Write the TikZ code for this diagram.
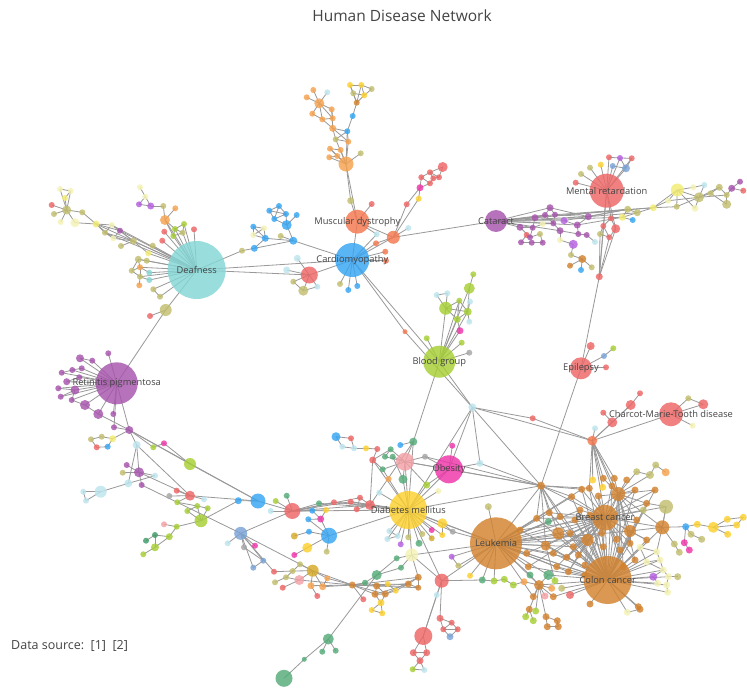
\documentclass[tikz,border=0pt]{standalone}
\usepackage{fontspec}
\setmainfont{Open Sans}
\pgfdeclarelayer{back}
\pgfdeclarelayer{edges}
\pgfdeclarelayer{labels}
\pgfsetlayers{back,edges,main,labels}
\definecolor{teal}{HTML}{84D6D6}
\definecolor{cblue}{HTML}{36A5F4}
\definecolor{morange}{HTML}{F5774F}
\definecolor{purp}{HTML}{A653AC}
\definecolor{mred}{HTML}{EE6666}
\definecolor{ygreen}{HTML}{A6CF34}
\definecolor{magenta}{HTML}{EE34A8}
\definecolor{yellow}{HTML}{FDD02E}
\definecolor{brown}{HTML}{D2822E}
\definecolor{olive}{HTML}{C2BE6E}
\definecolor{pale}{HTML}{F5F3B5}
\definecolor{lblue}{HTML}{BEE5EF}
\definecolor{green}{HTML}{55AB78}
\definecolor{dgreen}{HTML}{3E9A68}
\definecolor{orange}{HTML}{F6A24E}
\definecolor{sblue}{HTML}{79A3D6}
\definecolor{pink}{HTML}{F3A0A5}
\definecolor{gold}{HTML}{D6A928}
\definecolor{violet}{HTML}{B55DE0}
\definecolor{yellowb}{HTML}{F3EC72}
\definecolor{gray}{HTML}{A5A5A5}
\definecolor{txt}{HTML}{444444}
\definecolor{edgec}{HTML}{999999}
\tikzset{
  v/.style={circle, inner sep=0pt, draw=none, fill opacity=0.82},
  link/.style={draw=edgec, line width=0.8pt},
  lab/.style={text=txt, font=\fontsize{9.3}{11}\selectfont, inner sep=0pt}
}
\newcommand\vtxlist[1]{%
  \foreach \nm/\px/\py/\col/\sz in {#1}{\node[v, fill=\col, minimum size=\sz pt] (\nm) at (\px,\py) {};}}
\newcommand\edgelist[1]{%
  \foreach \ea/\eb in {#1}{\draw[link] (\ea.center) -- (\eb.center);}}
\begin{document}
\begin{tikzpicture}[x=1pt,y=-1pt]
\useasboundingbox (0,0) rectangle (747,688);
\begin{pgfonlayer}{back}
\fill[white] (0,0) rectangle (747,688);
\end{pgfonlayer}

% ---------- hubs ----------
\vtxlist{deaf/196.7/270/teal/58, card/352.3/260/cblue/34, musc/357.3/221.7/morange/24,
 cat/496/221/purp/22, mr/606.7/190.7/mred/34, rp/116.7/383.3/purp/42, bg/439.3/361.7/ygreen/32,
 epi/581/368.3/mred/22, char/671/414.3/mred/24, obes/449/469.3/magenta/28, diab/408.3/510/yellow/38,
 leuk/496/543.3/brown/52, breast/605/517.7/brown/26, colon/607.7/580/brown/48}

% ---------- around Deafness ----------
\vtxlist{a1/66.7/210/olive/9, a2/60/189/pale/6, a3/70.7/191/pale/6, a4/65/198/yellowb/6, a5/51.7/205/mred/6,
 a6/54/214/olive/6, a7/60.7/222/pale/6, a8/75/222.7/pale/9, a9/82.3/212.3/olive/6, a10/96/224/yellowb/7,
 a11/111.7/225/pale/6, a12/120/230.7/purp/6, a13/113.3/238.3/pale/6, a14/105/232.7/olive/6,
 a15/133.3/241/olive/7, a16/121/246/olive/6, a17/148.3/253.3/yellowb/6, a18/152.7/245.7/olive/6}
\vtxlist{b1/165/220/orange/10, b2/140/187.3/pale/6, b3/145.3/196.7/pale/6, b4/139/204.3/violet/6,
 b5/150.7/206/violet/7, b6/163.3/206/olive/6, b7/175.3/208.3/orange/6, b8/175/229/ygreen/6,
 b9/184/224/ygreen/6, b10/173.3/236/ygreen/6, b11/182.7/232.7/olive/6, b12/164.3/231.7/mred/6,
 b13/194/229.3/mred/6, b14/162.3/240.7/mred/6}
\vtxlist{c1/138.3/259.3/olive/7, c2/146.7/260.7/olive/6, c3/131.7/270.7/olive/6, c4/140/267.3/orange/6,
 c5/140/276.7/olive/6, c6/149.3/272.7/teal/6, c7/149.3/280/teal/6, c8/139.3/285.3/orange/6,
 c9/153.3/289.3/olive/6, c10/160/296.7/olive/6, c11/165.7/310/olive/12, c12/150/316/mred/6}
\vtxlist{d1/242/250.7/olive/6, d2/254.3/248.3/cblue/7, d3/253.3/226.7/cblue/6, d4/264/228.3/pale/6,
 d5/253.3/235/pale/6, d6/265.3/238.3/cblue/7, d7/269.3/210.7/cblue/6, d8/279/206/cblue/6,
 d9/274.3/219/cblue/6, d10/286/214/cblue/6, d11/286.7/225/cblue/10, d12/296.7/215/cblue/6,
 d13/293.3/240.7/cblue/8, d14/280.7/236/olive/6}

% ---------- Cardiomyopathy / Muscular dystrophy ----------
\vtxlist{e1/309.3/275/mred/17, e2/297.3/258.3/lblue/7, e3/286.7/270/lblue/7, e4/317.3/286.7/lblue/6,
 e5/293.3/281.7/olive/6, e6/303.3/290.7/olive/10, e7/340/284/olive/6, e8/348.3/290/cblue/6, e9/357.3/286/cblue/6}
\vtxlist{f1/350.7/200.7/olive/7, f2/371.7/204/mred/6, f3/393.3/237.3/morange/13, f4/408.3/228/lblue/6,
 f5/376.7/234.3/lblue/6, f6/376/243.3/morange/6, f7/385.3/251.7/morange/6, f8/386/260.7/morange/6,
 f9/406.7/204.3/mred/6, f10/418.7/198.7/yellow/6, f11/420/187.7/magenta/7, f12/421.3/177.3/mred/6,
 f13/430/172.3/mred/6, f14/433.3/178.3/mred/6, f15/439/177.3/mred/6, f16/430/183.3/mred/6, f17/442.7/167/mred/10}
\vtxlist{g1/346/164/orange/15, g2/319.3/103.3/orange/10, g3/313.3/90/orange/6, g4/327.3/92.3/lblue/6,
 g5/306.7/97.3/orange/6, g6/312.3/113.7/orange/6, g7/322.3/119.3/orange/6, g8/331.7/109.3/orange/6,
 g9/332.7/118.3/orange/6, g10/332.7/128.3/orange/7, g11/347.3/131.3/cblue/6, g12/335.7/139.3/olive/6,
 g13/348.3/141.7/orange/6, g14/330/148.7/orange/6, g15/340.7/150/orange/6, g16/329.3/157.3/orange/6,
 g17/337.3/156/orange/6, g18/360.7/153.3/olive/6, g19/352.7/116/cblue/6, g20/356.7/102.7/brown/6,
 g21/350/85/yellow/6, g22/361.3/85/yellow/6, g23/364.3/95.3/yellow/6, g24/371.7/89/olive/6, g25/353.3/93.3/olive/6}

% ---------- Cataract / Mental retardation ----------
\vtxlist{h1/550/207.7/purp/7, h2/535/217.7/purp/7, h3/545/215/purp/6, h4/555/214.7/purp/6,
 h5/564/220.7/violet/7, h6/553.3/223.3/purp/6, h7/542.7/224/pale/6, h8/520/227.3/purp/7,
 h9/532.7/227.7/purp/6, h10/560/230.7/purp/7, h11/577.3/225/purp/7, h12/588.3/216.7/purp/7,
 h13/578.3/234/purp/6, h14/586.7/235/purp/6, h15/595/242/lblue/6, h16/560/240/pale/6,
 h17/573.3/244.3/violet/9, h18/571/255/olive/6, h19/582.3/259/brown/8, h20/570/265.7/brown/6,
 h21/581/270/cblue/6, h22/591.7/267.3/olive/6, h23/526.7/235/mred/6, h24/540/234/olive/6,
 h25/521/242.3/purp/6, h26/531.7/242.7/purp/6, h27/542.7/242.7/purp/6, h28/530/237.3/purp/6}
\vtxlist{m1/575.7/182.7/mred/6, m2/581/174/olive/6, m3/590/167.7/olive/6, m4/600.7/164.7/yellow/6,
 m5/609/157.3/mred/6, m6/620/158/violet/6, m7/631.7/158.3/mred/6, m8/612.7/166/sblue/6,
 m9/626/168.3/sblue/8, m10/611/218.3/mred/6, m11/603.3/226/mred/6, m12/615.7/228.7/mred/9,
 m13/609.3/237.3/mred/6, m14/600/234/olive/6, m15/599.3/276.7/mred/7}
\vtxlist{i1/622.3/217.3/yellowb/7, i2/632.7/220/cblue/6, i3/627.7/209.3/olive/7, i4/637.3/212.7/olive/7,
 i5/653.3/207.7/yellowb/7, i6/668.3/200.7/pale/6, i7/676.7/206.7/olive/6, i8/677.3/190/yellowb/13,
 i9/693.3/187.3/pale/6, i10/704.3/185/lblue/6, i11/699/197.3/olive/10, i12/695/208.3/pale/7,
 i13/710.7/193.3/olive/6, i14/719.3/187.3/olive/7, i15/726.7/195/olive/6, i16/726.7/204.3/olive/9,
 i17/731.7/188.3/purp/7, i18/740/181.7/purp/6, i19/743.3/190.7/mred/6}

% ---------- Blood group, centre ----------
\vtxlist{j1/469.3/288.3/ygreen/11, j2/473.3/274.3/ygreen/6, j3/445.7/308.3/ygreen/13, j4/436.7/295/lblue/6,
 j5/447.3/293.3/lblue/6, j6/459.3/300.7/ygreen/6, j7/470/301.7/lblue/6, j8/467.7/311.7/ygreen/8,
 j9/457.3/319.3/ygreen/7, j10/469.3/321.7/lblue/6, j11/460/330.7/magenta/7, j12/426.7/338.3/ygreen/6,
 j13/461.7/342.7/ygreen/6, j14/469.3/352.7/gray/6, j15/405/331.7/morange/5}
\vtxlist{k1/472.3/407.3/lblue/8, k2/532.7/418.3/mred/6, k3/592.3/440.7/morange/10, k4/541/485.7/brown/8,
 k5/480/463.3/lblue/7, k6/413.3/441.7/green/8, k7/595/428.3/lblue/6}
\vtxlist{ep1/590.7/346/mred/8, ep2/604/356/sblue/6, ep3/613.3/348.3/ygreen/6, ep4/606/367.3/mred/6}
\vtxlist{ch1/703.3/404.3/mred/10, ch2/688.3/398.3/olive/6, ch3/692.7/425.7/pale/6, ch4/630.7/405/mred/10,
 ch5/612.3/422.3/mred/10, ch6/640/393.3/mred/6, ch7/603.3/412.7/mred/6}

% ---------- Obesity / Diabetes ----------
\vtxlist{pk/405/461.7/pink/18, n1/336/436.7/cblue/9, n2/351/438.3/mred/6, n3/342.3/446.7/lblue/6,
 n4/354/448.3/lblue/6, n5/366/448.3/yellow/6, n6/377.3/449/mred/6, n7/400.3/445/cblue/6,
 n9/452.3/445.7/magenta/6, n10/390.7/449.3/green/6, n11/372.7/460/mred/7, n12/385/456.7/green/6,
 n13/392.7/456.7/green/6, n14/425/456.7/gray/6, n15/382.7/469.3/green/6, n16/388.7/479/orange/6,
 n17/403/479.3/green/9, n18/426.7/485/ygreen/7, n19/438.3/491/pale/6, n20/379.3/492.7/lblue/6, n21/370/505/mred/10}
\vtxlist{q1/389.3/531/lblue/6, q2/397.7/536/lblue/6, q3/387.3/539/lblue/6, q4/408.3/537.3/olive/6,
 q5/419/543.3/green/7, q6/400.7/544.3/violet/6, q7/422.3/534/olive/6, q8/431.7/530/magenta/6,
 q9/431.7/538.3/gold/6, q10/442.3/523.3/yellow/10, q11/442.3/535/yellow/6, q12/452.7/531.7/gray/6}
\vtxlist{p1/411.7/555/pale/13, p2/451.7/556.7/violet/6, p3/458.3/565.7/olive/6, p4/470/575.7/yellow/6,
 p5/441.7/580.7/mred/14, p6/436.7/595/lblue/6, p7/482.3/580/green/7}

% ---------- Retinitis pigmentosa and the lower left ----------
\vtxlist{r1/80/358.3/purp/8, r2/92.3/360.7/purp/6, r3/108.3/353.3/purp/6, r4/72.3/370/purp/6,
 r5/61.7/372.7/purp/6, r6/81.7/368.3/purp/6, r7/66.7/381.7/purp/7, r8/79.3/377.3/purp/6,
 r9/75/390/purp/9, r10/58.3/388.3/purp/6, r11/60.7/396.7/purp/6, r12/71.7/400/purp/6,
 r13/85/405/purp/10, r14/98.3/414/purp/10, r15/113.3/414/purp/6, r16/114/427.3/purp/6, r17/129.3/430/purp/8}
\vtxlist{s1/91/439.3/olive/6, s2/101.7/436.7/olive/6, s3/112.7/438.7/yellowb/7, s4/96.7/447.3/mred/6,
 s5/107.7/446.7/cblue/6, s6/136.7/445/lblue/8, s7/153.3/447.3/ygreen/6, s8/164/443.3/magenta/6,
 s9/190/464/ygreen/12, s10/139/472.3/purp/10, s11/126.7/465/purp/6, s12/122.7/472.7/olive/6,
 s13/141.7/485/purp/6, s14/155/475.7/lblue/6, s15/128.3/483.3/lblue/8, s16/100.7/491.7/lblue/12,
 s17/83.3/491.7/lblue/6, s18/86/500.7/lblue/6, s19/176.7/490.7/mred/6, s20/190/495.7/mred/10,
 s21/169.3/496/gray/6, s22/177.3/502.3/ygreen/6, s23/204/499.3/lblue/6, s24/197.3/506/ygreen/6,
 s25/187.3/511/ygreen/6, s26/207.7/508.3/ygreen/6, s27/201/520.7/ygreen/13, s28/164/524.3/pink/6,
 s29/176.7/526.7/ygreen/6, s30/169.3/536.7/ygreen/7, s31/155/535/dgreen/6, s32/146/540.7/dgreen/6,
 s33/155/547.3/ygreen/8, s34/143.3/554.3/ygreen/6}
\vtxlist{t1/238.3/500.7/cblue/7, t2/258/501/cblue/15, t3/240.7/533.3/sblue/13, t4/227.7/543.3/lblue/6,
 t5/255/545.7/magenta/6, t6/244/547.3/gray/6, t7/263.3/560.7/sblue/6, t8/253.3/567.7/sblue/6}
\vtxlist{u1/292.3/511/mred/16, u2/275.7/501/ygreen/6, u3/270.7/511/lblue/6, u4/286.7/495.7/green/6,
 u5/319/503.3/green/6, u6/334/502.3/mred/6, u7/350.7/501.7/mred/6, u8/360/497.7/mred/6,
 u9/356.7/509.3/mred/6, u10/312.3/510.7/cblue/6, u11/326/510/yellow/6, u12/320.7/519/magenta/7,
 u13/308.3/519.3/cblue/6, u14/329/535.7/cblue/16, u15/309/531.7/cblue/6, u16/294.3/536/gold/7,
 u17/307.3/547.7/yellow/10, u18/294.3/555/magenta/6, u19/326.7/551.7/olive/6}
\vtxlist{v1/312.7/570.7/gold/12, v2/300/564.3/olive/6, v3/292.7/571/olive/6, v4/299.3/580/pink/10,
 v5/286/577.3/olive/6, v6/275/582.3/olive/6, v7/274/571.7/mred/6, v8/282.7/587.7/mred/6,
 v9/311/585.7/orange/7, v10/322.7/586.7/orange/7, v11/327.3/578.3/orange/6, v12/317.3/596/mred/6}
\vtxlist{w1/352.3/585/brown/7, w2/365/582.7/green/6, w3/376.7/586/brown/7, w4/387.7/584/yellow/6,
 w5/375/594.3/brown/7, w6/385.3/594/brown/7, w7/395.7/590.7/yellow/6, w8/408.3/584/brown/7,
 w9/418.3/577.3/brown/7, w10/418.3/587.7/brown/6, w11/381/602.7/yellow/7, w12/371.7/610/yellow/6,
 w13/382.3/613.3/yellow/6, w14/363.3/599.3/mred/6, w15/376.7/575/green/10, w16/396.7/558.3/green/6,
 w17/401/567.7/green/6}
\vtxlist{z1/423.3/636/mred/18, z2/413.3/652.7/mred/7, z3/426.7/652.7/mred/7, z4/420/660.7/mred/7,
 z5/412.7/669.3/ygreen/6, z6/424.3/670/lblue/6, z7/440/618.3/mred/7, z8/451.7/622.7/mred/6,
 z9/443.3/629.3/mred/6, z10/457.7/629.3/mred/6, z11/450/636.7/sblue/7}
\vtxlist{x1/328.3/639/green/11, x2/322.3/651.7/green/6, x3/335.7/650.7/green/6, x4/304.3/659.3/green/5, x5/284/678.3/green/17}

% ---------- cancer cluster ----------
\vtxlist{cb1/618.3/494/brown/14, cb2/558.3/533.3/brown/12, cb3/587.7/540/brown/12, cb4/630/531/brown/12,
 cb5/662.3/527.3/brown/14, co1/666/506.7/olive/14, cb6/545.7/545.7/brown/10, cb7/539/585/brown/10}
\vtxlist{cs1/571.7/496.7/brown/7, cs2/581.7/489.3/brown/7, cs3/598.3/496/brown/7, cs4/612/486/brown/7,
 cs5/635/490/brown/7, cs6/646.7/503.3/brown/7, cs7/636.7/520/brown/7, cs8/646.7/540/brown/7,
 cs9/549.3/512.7/brown/7, cs10/560/516.7/brown/7, cs11/536.7/518.3/brown/7, cs12/570/533.3/brown/7,
 cs13/573.3/546.7/brown/7, cs14/601.7/533.3/brown/7, cs15/616.7/539.3/brown/7, cs16/603.3/546.7/brown/7,
 cs17/620/550/brown/7, cs18/630/543.3/brown/7, cs19/553.3/553.3/brown/7, cs20/566.7/557.3/brown/7,
 cs21/578.3/555/brown/7, cs22/556.7/566.7/brown/7, cs23/568.3/571.7/brown/7, cs24/526.7/553.3/brown/7,
 cs25/528.3/566.7/brown/7, cs26/585/565/brown/7, cs27/533.3/596.7/brown/7, cs28/553.3/596.7/brown/7,
 cs29/623.3/566.7/brown/7, cs30/635/560/brown/7, cs31/590/604/brown/7, cs32/638.3/606.7/brown/7,
 cs33/626.7/480/brown/7, cs34/614.3/478.3/brown/7, cs35/603.3/478.3/brown/7, cs36/589.3/488.3/brown/7,
 cs37/580/510/brown/7, cs38/640/609.3/brown/7, cs39/529.3/609.3/brown/7, cs40/546/616.7/brown/7,
 cs41/557.3/620.7/brown/7, cs42/547.3/626.7/brown/7, cs43/558.3/626.7/brown/7, cs44/590/515/brown/7,
 cs45/575/520/brown/7, cs46/655/490/brown/7, cs47/520/530/brown/7, cs48/585/575/brown/7}
\vtxlist{cy1/592.7/480/yellow/7, cy2/602.7/487.3/yellow/7, co2/636.7/471.7/olive/7, co3/650/475/olive/8,
 co4/655.7/465/olive/7, cor1/665.7/472.3/orange/8, cg1/548.3/575/green/10, cg2/530/575/green/7,
 cyg1/494/581/ygreen/7, cyg2/504.3/579.3/ygreen/7, cyg3/513.3/585/ygreen/7, cor2/524/581.7/orange/7,
 co5/488.3/506.7/olive/7, cyg4/535.7/611/ygreen/7, cyg5/525.7/616.7/ygreen/7, cyg6/533.3/620.7/ygreen/7,
 cr1/570/595/mred/8, co6/561.7/588.3/olive/7, cor3/551.7/588.3/orange/7, cpk/545/596/pink/7,
 cyg7/555/580.7/ygreen/7, cg4/548.3/521.7/green/7}
\vtxlist{cp1/640/547.3/pale/7, cp2/656.7/551.7/pale/7, cp3/646.7/562/pale/7, cp4/660/560/pale/7,
 cp5/663.3/570/pale/7, cp6/653.3/576.7/violet/8, cp7/668.3/576.7/pale/7, cp8/677.7/576.7/olive/7,
 cp9/666.7/585/pale/7, cp10/657.7/583.3/pale/7, cp11/667.7/592.3/pale/7, cp13/643.3/510/olive/7, cp14/627.3/612.3/pale/7}
\vtxlist{rc1/685.7/526.7/cblue/7, rc2/697.3/524.3/yellow/7, rc3/713.3/527.3/yellow/11, rc4/727.3/519.3/yellow/7,
 rc5/736.7/525/yellow/7, rc6/743.3/517.3/yellow/7, rc7/727.7/534.3/yellow/7, rc8/691/534.3/olive/7,
 rc9/701.7/539.3/olive/7, rc10/684.3/542.7/magenta/7, rc11/689.3/550/magenta/7, rc12/674.3/544/olive/7, rc13/679.3/552.3/olive/7}

% ---------- connectors ----------
\begin{pgfonlayer}{edges}
\edgelist{a1/a2, a1/a3, a2/a3, a1/a4, a4/a3, a1/a5, a1/a6, a1/a7, a1/a8, a1/a9, a8/a10, a9/a10,
 a10/a11, a10/a12, a10/a13, a10/a14, a11/a12, a12/a13, a13/a14, a14/a11, a11/a15, a12/a15, a13/a15,
 a14/a15, a15/deaf, a15/a16, a15/a17, a18/deaf, a17/deaf, a10/deaf, a12/deaf, a14/deaf, a11/deaf}
\edgelist{b2/b3, b3/b4, b3/b5, b4/b5, b5/b6, b6/b1, b7/b1, b1/b8, b1/b10, b8/b9, b8/b10, b9/b11,
 b10/b11, b8/b11, b8/deaf, b9/deaf, b10/deaf, b11/deaf, b12/deaf, b13/deaf, b14/deaf, b1/deaf}
\edgelist{c1/c2, c1/c3, c1/c4, c3/c4, c3/c5, c4/c5, c5/c8, c4/c6, c5/c7, c6/deaf, c7/deaf, c1/deaf,
 c2/deaf, c4/deaf, c5/deaf, c9/deaf, c10/deaf, c10/c9, c11/deaf, c11/c12, c11/rp}
\edgelist{deaf/d1, d1/d2, d2/d6, d2/d13, d3/d4, d3/d5, d4/d5, d4/d6, d5/d6, d3/d6, d7/d8, d7/d9,
 d8/d9, d8/d10, d9/d10, d7/d10, d9/d11, d10/d11, d11/d12, d11/d13, d13/d14, d13/card, d6/d13}
\edgelist{e1/e2, e1/e3, e1/e4, e1/e5, e1/e6, e5/e6, e4/e6, e1/card, deaf/card, deaf/e1,
 card/e7, card/e8, card/e9}
\edgelist{musc/card, musc/f1, musc/f2, musc/f3, musc/f5, card/f3, card/f6, card/f7, card/f8, card/f5,
 f3/f4, f3/f6, f3/f9, f3/f10, f9/f11, f10/f11, f11/f12, f11/f16, f12/f13, f12/f16, f13/f14, f14/f15,
 f13/f15, f16/f14, f15/f17, f13/f17, f3/cat, f1/g1, musc/g1}
\edgelist{g2/g3, g2/g4, g2/g5, g2/g6, g2/g7, g2/g8, g2/g9, g6/g7, g7/g9, g8/g9, g9/g10, g8/g10,
 g7/g10, g10/g11, g10/g12, g10/g13, g11/g12, g11/g13, g12/g13, g12/g1, g13/g1, g14/g1, g15/g1,
 g16/g1, g17/g1, g14/g15, g16/g17, g14/g17, g1/g18, g11/g19, g19/g20, g20/g21, g20/g22, g20/g23,
 g20/g25, g21/g22, g22/g23, g21/g25, g23/g24, g25/g23, g22/g24, g1/g11}
\edgelist{cat/h1, cat/h2, cat/h3, cat/h4, cat/h5, cat/h8, cat/h9, cat/h10, cat/h12, cat/h6, cat/h11,
 h1/h4, h1/h3, h2/h3, h3/h6, h4/h6, h6/h10, h10/h13, h13/h14, h14/h15, h10/h16, h16/h17, h17/h18,
 h18/h19, h19/h20, h19/h21, h19/h22, h8/h28, h28/h23, h28/h24, h23/h25, h24/h27, h25/h26, h26/h27,
 h8/h9, h9/h28, h12/h11, h11/h13, h4/h12, h7/h9, h7/h6, h2/h9, h1/h12, h5/h11,
 cat/i1, cat/i3, h12/i4, h4/i5, cat/i5, h11/i1, h5/i3, h12/i3}
\edgelist{mr/m1, mr/m2, mr/m3, mr/m4, mr/m5, mr/m6, mr/m7, mr/m8, mr/m9, m5/m6, m6/m7, m7/m9, m8/m9,
 m6/m9, mr/m10, mr/m11, mr/m12, m10/m11, m10/m12, m11/m13, m12/m13, m11/m14, m14/m13, mr/m15,
 m11/m15, m13/m15, m14/m15, m12/m15, m15/epi}
\edgelist{i1/i2, i1/i3, i3/i4, i4/i5, i1/i4, i5/i8, i5/i6, i6/i8, i7/i8, i8/i9, i8/i11, i9/i10, i10/i11,
 i6/i11, i7/i11, i11/i12, i11/i13, i11/i14, i11/i15, i13/i14, i14/i15, i15/i16, i13/i16, i15/i17,
 i17/i18, i17/i19, i5/i7, i8/i12}
\edgelist{j1/j2, j1/j8, j3/j4, j3/j5, j4/j5, j3/j6, j3/j8, j6/j8, j3/j9, j6/j9, j7/j8, j8/j10, j8/j9,
 j9/j11, j3/bg, j8/bg, j9/bg, j11/bg, j12/bg, j13/bg, j14/bg, j6/bg, j1/bg,
 card/j15, j15/k1, card/bg, bg/k1, bg/k6}
\edgelist{k1/k2, k2/k3, k1/k3, k1/k4, k1/k5, k1/obes, k1/diab, k5/obes, k5/k4, k3/k7, k3/ch5, k3/ch4,
 k3/char, k4/epi, k4/leuk, k4/breast, k4/colon, k4/obes, k4/diab, k4/pk, k4/n14}
\edgelist{epi/ep1, epi/ep2, ep2/ep3, epi/ep4, char/ch1, char/ch2, ch2/ch1, char/ch3, ch4/ch5, ch4/ch6, ch5/ch7}
\edgelist{n1/n2, n1/n3, n3/n4, n2/n4, n4/n5, n5/n6, n6/n11, n11/n10, n10/n12, n12/pk, n13/pk, n7/k6,
 k6/pk, n11/n15, n11/n21, n15/n16, n16/diab, pk/n17, pk/n18, pk/diab, pk/n14, n14/obes, pk/obes,
 n9/obes, n17/diab, n18/diab, n19/diab, n18/obes, n20/diab, n21/diab, n11/diab, k6/n21, n10/pk,
 n15/pk, k6/diab, obes/diab, n13/n17}
\edgelist{diab/q1, diab/q2, diab/q3, diab/q4, diab/q5, diab/q6, diab/q7, diab/q8, diab/q9, diab/q10,
 diab/q11, diab/q12, q1/q2, q2/q3, q10/q11, q10/q12, q12/leuk, q10/leuk, diab/leuk}
\edgelist{p1/diab, p1/leuk, p1/p5, p5/p6, p5/leuk, p5/p7, p7/leuk, p2/p3, p3/leuk, p4/leuk, diab/p5, p2/leuk}
\edgelist{rp/r1, rp/r2, rp/r3, rp/r4, rp/r5, rp/r6, rp/r7, rp/r8, rp/r9, rp/r10, rp/r11, rp/r12,
 rp/r13, rp/r14, rp/r15, rp/r16, r1/r2, r4/r6, r5/r4, r7/r8, r9/r10, r9/r11, r9/r12, r12/r13,
 r13/r14, r14/r17, r16/r17, rp/r17}
\edgelist{r17/s3, s1/s2, s2/s3, s1/s4, s4/s5, s3/s5, r17/s6, r17/s7, s7/s8, s8/s9, r17/s9, s9/t2,
 r17/t2, s6/s10, s6/s15, s6/s20, s10/s11, s10/s12, s10/s13, s10/s14, s10/s20, s15/s16, s16/s17,
 s16/s18, s17/s18, s15/s14, s20/s19, s20/s21, s20/s22, s20/t2, s22/s24, s24/s25, s24/s26, s24/s27,
 s25/s27, s26/s27, s27/s29, s27/t1, s28/s29, s29/s30, s30/s31, s30/s33, s31/s32, s31/s33, s33/s34,
 s13/t3, s20/s23}
\edgelist{t1/t2, t2/u1, t3/t4, t3/t5, t3/t6, t3/t7, t3/t8, t7/t8, t3/u1, t3/v7, t3/v1, t6/t7}
\edgelist{u1/u2, u1/u3, u1/u4, u1/u5, u1/u6, u1/u7, u1/u8, u1/diab, u5/diab, u6/diab, u7/diab,
 u8/u9, u1/u10, u10/u12, u11/u12, u12/u14, u13/u14, u15/u14, u14/u17, u17/u18, u14/u19, u14/diab,
 u13/u12, u16/u15, n21/u7, n21/u8, n21/u9, n21/u6, n21/u1, u1/u11}
\edgelist{v1/v2, v1/v3, v1/v4, v1/v9, v1/v10, v1/v11, v2/v3, v3/v5, v4/v5, v5/v6, v4/v8, v9/v12,
 v10/v11, v1/w1, v4/w1, v10/w1, v11/w1, v9/w1, v7/v3}
\edgelist{w1/w3, w1/w5, w1/w6, w1/w8, w1/w9, w1/w10, w3/w5, w3/w6, w5/w6, w3/w4, w4/w7, w6/w7, w7/w8,
 w8/w9, w8/w10, w9/w10, w5/w11, w6/w11, w11/w12, w11/w13, w12/w13, w1/w14, w1/w2, w2/w15, w15/w16,
 w15/w17, w16/p1, w17/p1, w9/p1, x1/w15, w3/w8, w5/w8, w6/w9}
\edgelist{z1/p6, z1/p5, z1/z2, z1/z3, z2/z3, z2/z4, z3/z4, z4/z5, z4/z6, z5/z6, z7/z8, z7/z9, z8/z9,
 z8/z10, z9/z11, z10/z11, z9/z10, z7/p5}
\edgelist{x1/x2, x1/x3, x1/x4, x4/x5}
% dense mesh of the cancer cluster
\foreach \nm in {cb1,cb2,cb3,cb4,cb6,cs1,cs2,cs3,cs4,cs5,cs6,cs7,cs8,cs9,cs10,cs11,cs12,cs13,cs14,
 cs15,cs16,cs17,cs18,cs19,cs20,cs21,cs22,cs23,cs24,cs25,cs26,cs29,cs30,cs36,cs37,cs44,cs45,cs46,cs47,cs48}{
 \draw[link] (\nm.center) -- (breast.center);
 \draw[link] (\nm.center) -- (colon.center);}
\foreach \nm in {cs9,cs10,cs11,cs12,cs19,cs24,cs25,cs47,cs1,cs13,cs22,cb2,cb3,cb6,cs37,cs45,cs2,cs20,cs23,cs14,cb4}{
 \draw[link] (\nm.center) -- (leuk.center);}
\foreach \nm in {cs3,cs5,cs6,cs7,cs14,cs15,cs17,cs18,cs29,cs30,cs44,cs46,cb4,cb5}{
 \draw[link] (\nm.center) -- (cb1.center);}
\foreach \nm in {cs12,cs13,cs14,cs16,cs20,cs21,cs23,cs26,cs44,cs45,cb2}{
 \draw[link] (\nm.center) -- (cb3.center);}
\edgelist{leuk/breast, leuk/colon, breast/colon, cb5/breast, cb5/colon, cb5/cb4, co1/cb5, co1/cs6,
 co1/breast, co2/cb1, co3/co4, co4/cor1, co3/cb1, co3/co2, cs33/cb1, cs34/cb1, cs35/cb1, cy1/k3,
 cy2/k3, cs36/k3, cs35/k3, cs34/k3, cb1/k3, breast/k3, cs4/k3, k4/cs9, k4/cs10, k4/cb2, k4/cb6,
 k4/cs11, k4/cs1, k4/cs2, k4/cs36, cb5/rc1, rc1/rc2, rc2/rc3, rc3/rc4, rc3/rc5, rc4/rc6, rc5/rc6,
 rc3/rc7, rc1/rc8, rc8/rc9, rc10/rc11, cb5/rc12, rc12/rc13, rc1/rc10, cb5/co1, cb4/cs8, cb4/cs18}
\edgelist{cb7/cs27, cb7/cs28, cb7/cyg4, cb7/cs39, cs39/cyg5, cs39/cyg6, cs40/cs41, cs40/cs42,
 cs41/cs43, cs42/cs43, cb7/cs40, cg1/leuk, cg2/leuk, cyg1/p7, cyg1/cyg2, cyg2/cyg3, cyg3/cor2,
 cor2/cb7, cg2/cb7, cr1/colon, co6/colon, cor3/cb7, cpk/cb7, cyg7/cb6, cg4/leuk, co5/leuk,
 cp14/colon, cs38/colon, cs32/colon, cs38/cp14, cb7/colon, cb7/leuk, cg1/colon, cs27/leuk,
 cs31/colon, cs28/colon, cg1/cb7, cyg1/leuk}
\foreach \nm in {cp1,cp2,cp3,cp4,cp5,cp6,cp7,cp9,cp10,cp11,cp13}{
 \draw[link] (\nm.center) -- (colon.center);}
\edgelist{cp1/cp2, cp2/cp4, cp3/cp4, cp4/cp5, cp5/cp7, cp7/cp8, cp6/cp10, cp9/cp11, cp7/cp9,
 cp3/cp5, cp1/cp3, cp13/breast, cp2/cb5, cp5/cp6}
\end{pgfonlayer}

% ---------- labels ----------
\begin{pgfonlayer}{labels}
\node[lab] (lDeaf) at (deaf) {Deafness};
\node[lab] (lCard) at (card) {Cardiomyopathy};
\node[lab] (lMusc) at (musc) {Muscular dystrophy};
\node[lab] (lCat) at (cat) {Cataract};
\node[lab] (lMr) at (mr) {Mental retardation};
\node[lab] (lRp) at (rp) {Retinitis pigmentosa};
\node[lab] (lBg) at (bg) {Blood group};
\node[lab] (lEpi) at (epi) {Epilepsy};
\node[lab] (lChar) at (char) {Charcot-Marie-Tooth disease};
\node[lab] (lObes) at (obes) {Obesity};
\node[lab] (lDiab) at (diab) {Diabetes mellitus};
\node[lab] (lLeuk) at (leuk) {Leukemia};
\node[lab] (lBreast) at (breast) {Breast cancer};
\node[lab] (lColon) at (colon) {Colon cancer};
\node[text=txt, font=\fontsize{15.5}{18}\selectfont, inner sep=0pt] (title) at (402,16) {Human Disease Network};
\node[text=txt, font=\fontsize{12.5}{15}\selectfont, inner sep=0pt, anchor=west] (src) at (11,646) {Data source:\ \ [1]\ \ [2]};
\end{pgfonlayer}
\end{tikzpicture}
\end{document}
